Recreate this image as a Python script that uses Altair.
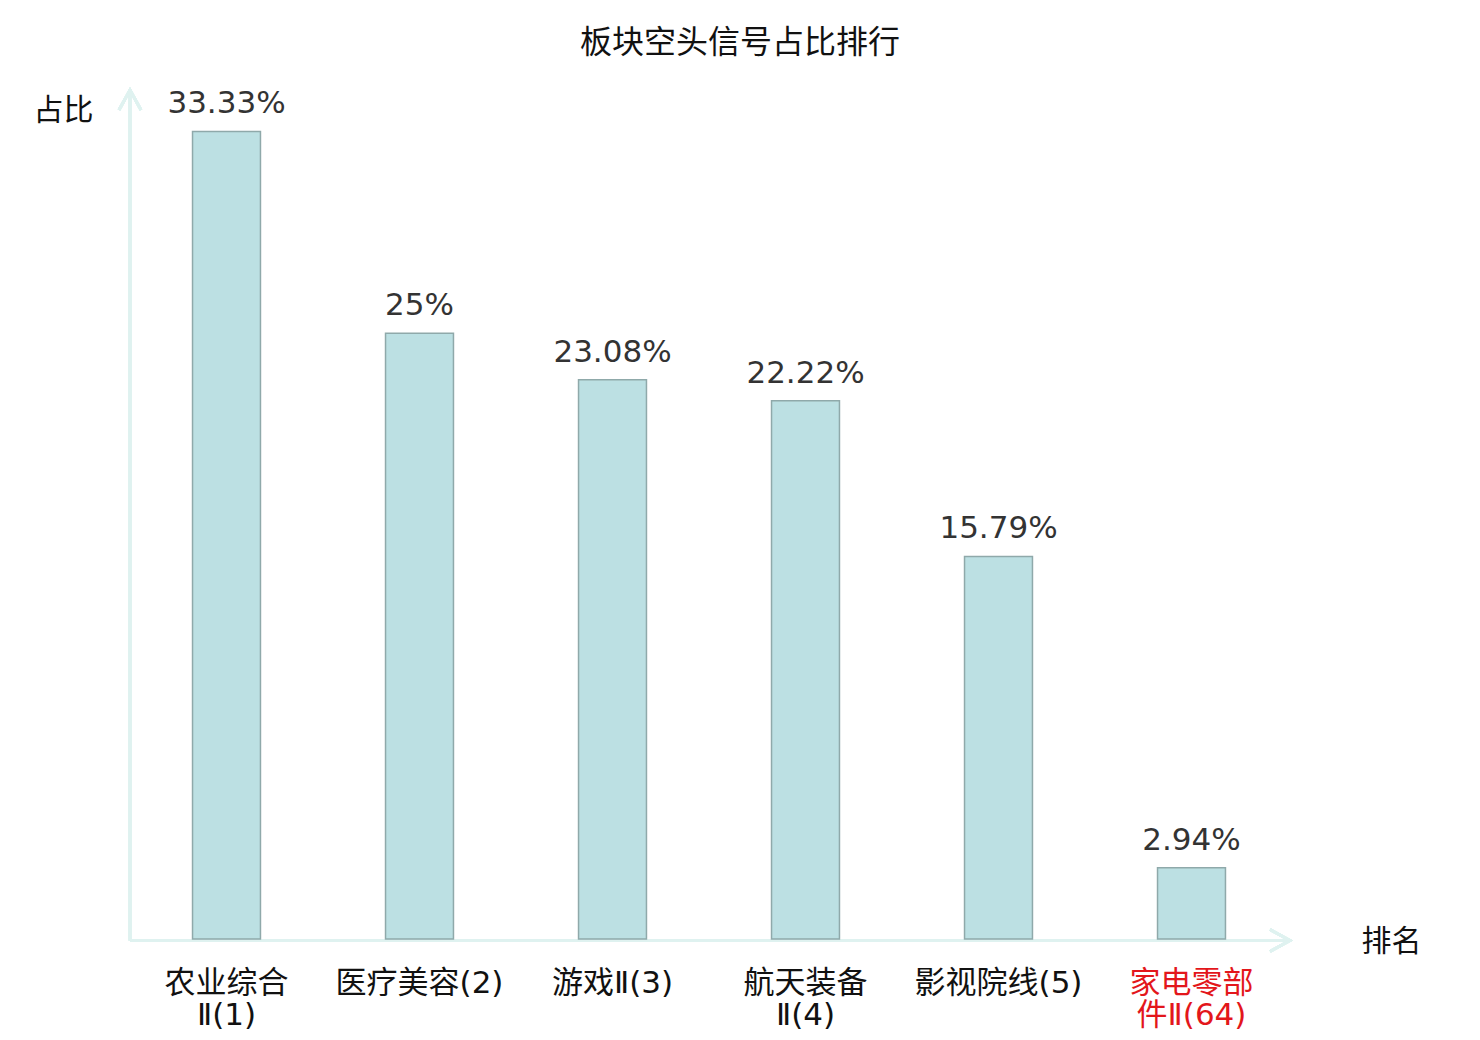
import altair as alt
import pandas as pd

categories = ["农业综合|Ⅱ(1)", "医疗美容(2)", "游戏Ⅱ(3)", "航天装备|Ⅱ(4)", "影视院线(5)", "家电零部|件Ⅱ(64)"]
values = [33.33, 25, 23.08, 22.22, 15.79, 2.94]
value_labels = ["33.33%", "25%", "23.08%", "22.22%", "15.79%", "2.94%"]
highlight = "家电零部|件Ⅱ(64)"

df = pd.DataFrame({"cat": categories, "val": values, "lab": value_labels})

W, H = 1158, 848
AXIS_COLOR = "#dff2f0"
CJK = "Noto Sans CJK SC"
MIX = "DejaVu Sans, Noto Sans CJK SC"

xscale = alt.Scale(domain=categories, paddingInner=0.648, paddingOuter=0.324)
yscale = alt.Scale(domain=[0, 35], nice=False)

base = alt.Chart(df)

bars = base.mark_bar(fill="#bce0e3", stroke="#8fa9aa", strokeWidth=1.5).encode(
    x=alt.X("cat:N", scale=xscale, sort=None,
            axis=alt.Axis(title="排名", titleAngle=0, titleX=1261, titleY=2,
                          titleAlign="center", titleBaseline="middle",
                          titleFont=CJK, titleFontSize=30, titleFontWeight="normal",
                          titleColor="#111",
                          domain=False, ticks=False, labelAngle=0,
                          labelFont=MIX, labelFontSize=31, labelPadding=29,
                          labelLineHeight=32, labelBaseline="top",
                          labelOverlap=False, labelBound=False,
                          labelExpr="split(datum.label, '|')",
                          labelColor={"condition": {"test": f"datum.value === '{highlight}'", "value": "#e3161b"}, "value": "#111"})),
    y=alt.Y("val:Q", scale=yscale,
            axis=alt.Axis(title="占比", titleAngle=0, titleX=-67, titleY=19,
                          titleAlign="center", titleBaseline="middle",
                          titleFont=CJK, titleFontSize=30, titleFontWeight="normal",
                          titleColor="#111",
                          domain=False, ticks=False, labels=False, grid=False)),
)

texts = base.mark_text(font="DejaVu Sans", fontSize=31, color="#333", baseline="alphabetic", dy=-18).encode(
    x=alt.X("cat:N", scale=xscale, sort=None),
    y=alt.Y("val:Q", scale=yscale),
    text="lab:N",
)

xaxis_line = alt.Chart(df).mark_rule(color=AXIS_COLOR, strokeWidth=3).encode(
    x=alt.value(0), x2=alt.value(W + 1), y=alt.value(H + 1.5)
)
yaxis_line = alt.Chart(df).mark_rule(color=AXIS_COLOR, strokeWidth=3).encode(
    x=alt.value(0), y=alt.value(0), y2=alt.value(H + 1.5)
)
x_arrow = alt.Chart(df).mark_point(shape="M-1,-0.55L0,0L-1,0.55", filled=False, stroke=AXIS_COLOR,
                                    strokeWidth=3, size=1600, opacity=1).encode(
    x=alt.value(W + 2), y=alt.value(H + 1.5)
)
y_arrow = alt.Chart(df).mark_point(shape="M-0.55,1L0,0L0.55,1", filled=False, stroke=AXIS_COLOR,
                                    strokeWidth=3, size=1600, opacity=1).encode(
    x=alt.value(0), y=alt.value(-1)
)

chart = alt.layer(xaxis_line, yaxis_line, x_arrow, y_arrow, bars, texts).properties(
    width=W, height=H,
    title=alt.TitleParams("板块空头信号占比排行", font=CJK, fontSize=32, fontWeight="normal",
                          color="#111", anchor="middle", dx=31, offset=24),
    padding={"left": 122, "top": 83, "right": 184, "bottom": 90},
    autosize=alt.AutoSizeParams(type="none"),
).configure(background="white").configure_view(stroke=None)

chart.save("out.html", embed_options={"renderer": "svg", "actions": False})
